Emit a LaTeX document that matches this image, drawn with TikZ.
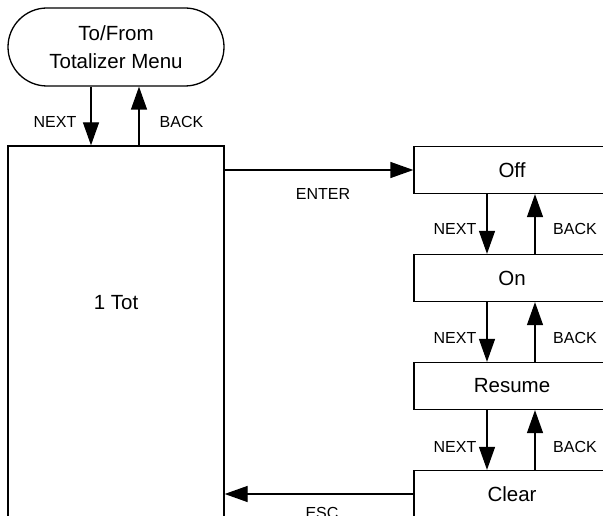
\documentclass[tikz,border=0pt]{standalone}
\usepackage{fontspec}
\setmainfont{Liberation Sans}
\usetikzlibrary{arrows.meta}
\tikzset{
  box/.style={draw, line width=1.3pt, inner sep=0pt, minimum width=196pt, minimum height=47pt, font=\fontsize{20.5}{24}\selectfont},
  term/.style={draw, line width=1.3pt, rounded corners=39pt, inner sep=0pt, minimum width=216pt, minimum height=78pt, align=center, font=\fontsize{20.5}{28}\selectfont},
  big/.style={draw, line width=1.3pt, inner sep=0pt, minimum width=216pt, minimum height=474pt},
  txt/.style={inner sep=0pt, font=\fontsize{20.5}{24}\selectfont},
  lbl/.style={inner sep=0pt, font=\fontsize{16}{18}\selectfont},
  arr/.style={line width=1.3pt, -{Triangle[length=23pt, width=16pt]}}
}
\begin{document}
\begin{tikzpicture}[x=1pt, y=-1pt]
\useasboundingbox (0,0) rectangle (603,516);
\clip (0,0) rectangle (603,516);
\fill[white] (0,0) rectangle (603,516);
\node[term] (menu) at (116,47) {To/From\\Totalizer Menu};
\node[big] (tot) at (116,383) {};
\node[txt] (tottxt) at (116,303) {1 Tot};
\node[box] (off) at (512,170) {Off};
\node[box] (on) at (512,278) {On};
\node[box] (res) at (512,386) {Resume};
\node[box] (clr) at (512,494) {Clear};
% top level
\draw[arr] ([xshift=-25pt]menu.south) -- ([xshift=-25pt]tot.north);
\draw[arr] ([xshift=23pt]tot.north) -- ([xshift=23pt]menu.south);
\node[lbl] (n0) at (55,122) {NEXT};
\node[lbl] (b0) at (181.5,122) {BACK};
% enter / esc
\draw[arr] (tot.east |- off.west) -- (off.west);
\node[lbl] (enter) at (323,194) {ENTER};
\draw[arr] (clr.west) -- (tot.east |- clr.west);
\node[lbl] (esc) at (322,513) {ESC};
% chain
\foreach \a/\b/\y in {off/on/229, on/res/338, res/clr/447}{
  \draw[arr] ([xshift=-25pt]\a.south) -- ([xshift=-25pt]\b.north);
  \draw[arr] ([xshift=23pt]\b.north) -- ([xshift=23pt]\a.south);
  \node[lbl] at (455,\y) {NEXT};
  \node[lbl] at (575,\y) {BACK};
}
\end{tikzpicture}
\end{document}
